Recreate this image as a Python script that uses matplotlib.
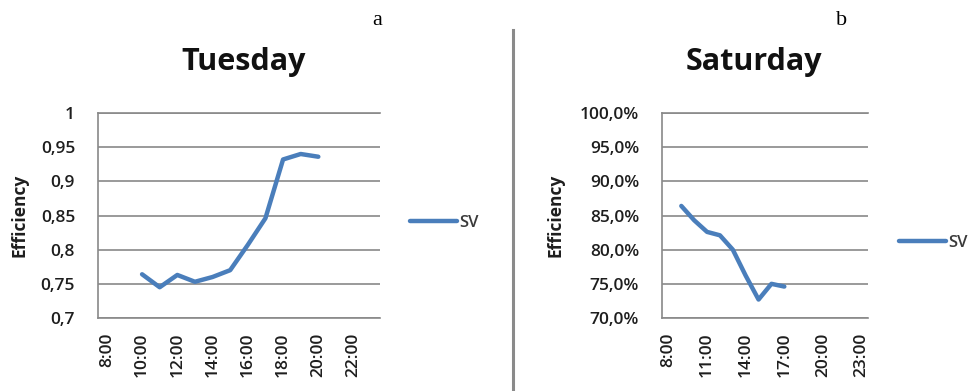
import matplotlib
matplotlib.use("Agg")
import matplotlib.pyplot as plt
from matplotlib.lines import Line2D
from matplotlib.ticker import FuncFormatter, FixedLocator

# categories shared by both panels (hourly, 8:00 .. 23:00)
hours = [f"{h}:00" for h in range(8, 24)]

# Tuesday: fraction, measured 10:00 .. 20:00
tue_hours = ["10:00", "11:00", "12:00", "13:00", "14:00", "15:00",
             "16:00", "17:00", "18:00", "19:00", "20:00"]
tue_sv = [0.764, 0.745, 0.763, 0.753, 0.760, 0.770, 0.807, 0.846, 0.932, 0.940, 0.936]

# Saturday: percent, measured 9:00 .. 17:00
sat_hours = ["9:00", "10:00", "11:00", "12:00", "13:00", "14:00", "15:00", "16:00", "17:00"]
sat_sv = [86.4, 84.3, 82.6, 82.1, 80.0, 76.2, 72.7, 75.0, 74.6]

tue_yticks = [0.7, 0.75, 0.8, 0.85, 0.9, 0.95, 1.0]
sat_yticks = [70, 75, 80, 85, 90, 95, 100]

LINE_C = "#4a7ebb"
GRID_C = "#898989"
TXT_C = "#1e1e1e"
FONT = "Open Sans"

W, H = 972, 391


def fx(px):
    return px / W


def fy(py):
    return 1 - py / H


def panel(rect, cats, vals, yticks, xstep, fmt, title, title_x, ylab_x, leg_x, leg_y):
    ax = fig.add_axes(rect)
    idx = [hours.index(c) for c in cats]
    ax.plot(idx, vals, color=LINE_C, lw=3.2, solid_capstyle="round",
            solid_joinstyle="round", label="SV")
    ax.set_xlim(-0.5, len(hours) - 0.5)
    ax.set_ylim(yticks[0], yticks[-1])
    ax.xaxis.set_major_locator(FixedLocator(range(0, len(hours), xstep)))
    ax.set_xticklabels(hours[::xstep], rotation=90, fontsize=12.5, color=TXT_C,
                       family=FONT, fontweight="semibold")
    ax.set_yticks(yticks)
    ax.yaxis.set_major_formatter(FuncFormatter(fmt))
    for t in ax.get_yticklabels():
        t.set_fontsize(12.5)
        t.set_color(TXT_C)
        t.set_family(FONT)
        t.set_fontweight("semibold")
    ax.tick_params(axis="x", length=0, pad=10.5)
    ax.tick_params(axis="y", length=0, pad=16.5)
    ax.yaxis.grid(True, color=GRID_C, lw=1.2)
    ax.set_axisbelow(True)
    for s in ["top", "bottom", "left"]:
        ax.spines[s].set_color(GRID_C)
        ax.spines[s].set_linewidth(1.2)
    ax.spines["right"].set_visible(False)

    fig.text(title_x, fy(70), title, ha="center", va="baseline",
             fontsize=22, fontweight="bold", family=FONT, color="#111111")
    fig.text(ylab_x, fy(215), "Efficiency", rotation=90, ha="center", va="center",
             fontsize=12.5, fontweight="bold", family=FONT, color=TXT_C)
    ax.legend(loc="center left", bbox_to_anchor=(leg_x, leg_y),
              bbox_transform=fig.transFigure, frameon=False, borderpad=0,
              borderaxespad=0, handlelength=2.8, handletextpad=0.15,
              prop={"family": FONT, "size": 12, "weight": "semibold"})
    for t in ax.get_legend().get_texts():
        t.set_color("#3a3a3a")
    return ax


fig = plt.figure(figsize=(W / 100, H / 100), dpi=100)

ax_h = 205 / H
ax_b = fy(318)

panel([fx(98), ax_b, fx(282), ax_h], tue_hours, tue_sv, tue_yticks, 2,
      lambda v, p: f"{v:g}".replace(".", ","),
      "Tuesday", fx(244), fx(19), fx(410), fy(223))

panel([fx(662), ax_b, fx(206), ax_h], sat_hours, sat_sv, sat_yticks, 3,
      lambda v, p: f"{v:.1f}%".replace(".", ","),
      "Saturday", fx(754), fx(556), fx(899), fy(243))

# panel letters and divider
fig.text(fx(377), fy(25), "a", ha="center", va="baseline", fontsize=16,
         family="Liberation Serif", color="black")
fig.text(fx(842), fy(25), "b", ha="center", va="baseline", fontsize=16,
         family="Liberation Serif", color="black")
fig.add_artist(Line2D([fx(513), fx(513)], [fy(30), 0], transform=fig.transFigure,
                      color="#8a8a8a", lw=2.2))

fig.savefig("out.png", dpi=100, facecolor="white")
